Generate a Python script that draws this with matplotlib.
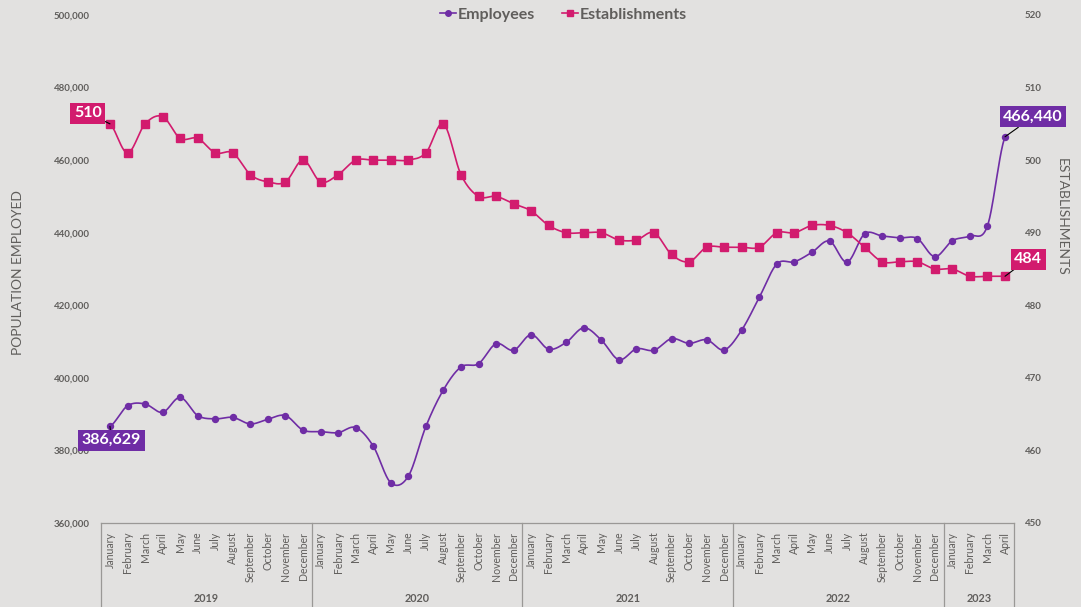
import numpy as np
import matplotlib
matplotlib.use("Agg")
import matplotlib.pyplot as plt
from matplotlib.lines import Line2D
from matplotlib.ticker import FuncFormatter

plt.rcParams['font.family'] = ['Lato', 'DejaVu Sans']

months = ["January", "February", "March", "April", "May", "June", "July", "August",
          "September", "October", "November", "December"]
years = ["2019", "2020", "2021", "2022", "2023"]
year_counts = [12, 12, 12, 12, 4]
categories = [m for y, n in zip(years, year_counts) for m in months[:n]]

employees = [386629, 392300, 392800, 390500, 394600, 389600, 388700, 389100, 387300, 388600, 389600, 385600,
             385200, 384900, 386300, 381200, 371100, 372900, 386600, 396700, 403000, 403900, 409400, 407600,
             411900, 407900, 409800, 413800, 410400, 405000, 408000, 407600, 410800, 409500, 410500, 407700,
             413200, 422200, 431400, 432000, 434600, 437700, 431900, 439700, 439100, 438600, 438400, 433400,
             437800, 439100, 441900, 466440]
establishments = [505, 501, 505, 506, 503, 503, 501, 501, 498, 497, 497, 500,
                  497, 498, 500, 500, 500, 500, 501, 505, 498, 495, 495, 494,
                  493, 491, 490, 490, 490, 489, 489, 490, 487, 486, 488, 488,
                  488, 488, 490, 490, 491, 491, 490, 488, 486, 486, 486, 485,
                  485, 484, 484, 484]
label_first_est = "510"

BG = "#E2E1E0"
PURPLE = "#6F2DA5"
MAGENTA = "#D21B6E"
TXT = "#605E5C"

W, H = 1081, 607
fig = plt.figure(figsize=(W / 100, H / 100), dpi=100, facecolor=BG)
left_px, right_px, top_px, bot_px = 101.2, 1013.8, 15, 523
ax = fig.add_axes([left_px / W, 1 - bot_px / H, (right_px - left_px) / W, (bot_px - top_px) / H])
ax.set_facecolor(BG)
ax2 = ax.twinx()
ax2.patch.set_visible(False)

n = len(categories)
x = np.arange(n)


def catmull(xs, ys, steps=24):
    xs = np.asarray(xs, float)
    ys = np.asarray(ys, float)
    px = np.concatenate([[2 * xs[0] - xs[1]], xs, [2 * xs[-1] - xs[-2]]])
    py = np.concatenate([[ys[0]], ys, [ys[-1]]])
    ox, oy = [], []
    for i in range(1, len(px) - 2):
        t = np.linspace(0, 1, steps, endpoint=False)
        for arr, out in ((px, ox), (py, oy)):
            p0, p1, p2, p3 = arr[i - 1], arr[i], arr[i + 1], arr[i + 2]
            m1 = (p2 - p0) / 2
            m2 = (p3 - p1) / 2
            h00 = 2 * t**3 - 3 * t**2 + 1
            h10 = t**3 - 2 * t**2 + t
            h01 = -2 * t**3 + 3 * t**2
            h11 = t**3 - t**2
            out.extend(h00 * p1 + h10 * m1 + h01 * p2 + h11 * m2)
    ox.append(xs[-1])
    oy.append(ys[-1])
    return np.array(ox), np.array(oy)


sx, sy = catmull(x, employees)
ax.plot(sx, sy, color=PURPLE, lw=1.2, zorder=3)
ax.plot(x, employees, 'o', color=PURPLE, ms=4.3, zorder=4)

tx, ty = catmull(x, establishments)
ax2.plot(tx, ty, color=MAGENTA, lw=1.2, zorder=3)
ax2.plot(x, establishments, 's', color=MAGENTA, ms=5.2, zorder=4)

ax.set_xlim(-0.5, n - 0.5)
ax.set_ylim(360000, 500000)
ax2.set_ylim(450, 520)
ax.set_yticks(np.arange(360000, 500001, 20000))
ax2.set_yticks(np.arange(450, 521, 10))
ax.yaxis.set_major_formatter(FuncFormatter(lambda v, p: f"{int(v):,}"))
for a in (ax, ax2):
    for s in a.spines.values():
        s.set_visible(False)
    a.tick_params(axis='y', length=0, labelsize=7, labelcolor=TXT, pad=8)
    a.set_xticks([])
for lab in ax.get_yticklabels() + ax2.get_yticklabels():
    lab.set_fontweight('bold')

# category axis
xt = ax.get_xaxis_transform()
for i, m in enumerate(categories):
    ax.text(i, -0.017, m, rotation=90, ha='center', va='top', fontsize=7.6,
            color=TXT, transform=xt, clip_on=False)
bounds = np.concatenate([[0], np.cumsum(year_counts)]) - 0.5
bottom = -(H - bot_px) / (bot_px - top_px)
ax.plot([bounds[0], bounds[-1]], [0, 0], transform=xt, color="#9A9896", lw=0.9, clip_on=False)
for b in bounds:
    ax.plot([b, b], [0, bottom], transform=xt, color="#9A9896", lw=0.9, clip_on=False)
for yl, a0, a1 in zip(years, bounds[:-1], bounds[1:]):
    ax.text((a0 + a1) / 2, -(598 - bot_px) / (bot_px - top_px), yl, ha='center', va='center',
            fontsize=7.8, fontweight='bold', color=TXT, transform=xt, clip_on=False)

# axis titles
fig.text(18 / W, 1 - 273 / H, "POPULATION EMPLOYED", rotation=90, ha='center', va='center',
         fontsize=10, color=TXT)
fig.text(1062 / W, 1 - 217 / H, "ESTABLISHMENTS", rotation=-90, ha='center', va='center',
         fontsize=10, color=TXT)

# legend
handles = [Line2D([], [], color=PURPLE, marker='o', ms=4, lw=1.2),
           Line2D([], [], color=MAGENTA, marker='s', ms=4.5, lw=1.2)]
leg = fig.legend(handles, ["Employees", "Establishments"], loc='center',
                 bbox_to_anchor=(563.5 / W, 1 - 15 / H), ncol=2, frameon=False,
                 handlelength=1.0, handletextpad=0.1, columnspacing=1.66,
                 prop={'size': 11.5, 'weight': 'bold'})
for t in leg.get_texts():
    t.set_color(TXT)


# data labels (all drawn on top axis, each in its own series' data coordinates)
def label(data_axis, i, val, text, dx, dy, color):
    ax2.annotate(text, xy=(x[i], val), xycoords=data_axis.transData, xytext=(dx, dy),
                 textcoords='offset points', ha='center', va='center', fontsize=11.5,
                 fontweight='bold', color='white', zorder=10, annotation_clip=False,
                 bbox=dict(boxstyle='square,pad=0.22', fc=color, ec='none'),
                 arrowprops=dict(arrowstyle='-', color='black', lw=0.8, shrinkA=0, shrinkB=0))


label(ax2, 0, establishments[0], label_first_est, -16, 7.8, MAGENTA)
label(ax2, n - 1, establishments[-1], f"{establishments[-1]}", 16.6, 12.4, MAGENTA)
label(ax, 0, employees[0], f"{employees[0]:,}", 1.2, -10, PURPLE)
label(ax, n - 1, employees[-1], f"{employees[-1]:,}", 20.2, 14.4, PURPLE)

fig.savefig("out.png", dpi=100, facecolor=BG)
